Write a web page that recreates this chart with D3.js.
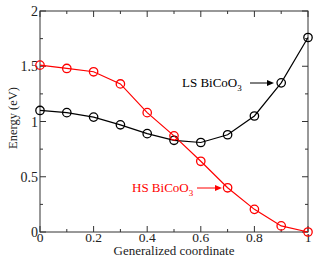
<!DOCTYPE html>
<html><head><meta charset="utf-8">
<script src="https://cdn.jsdelivr.net/npm/d3@7"></script>
<style>body{margin:0;background:#fff}</style>
</head><body><svg id="c" width="314" height="258"></svg>
<script>
const coords = [0,0.1,0.2,0.3,0.4,0.5,0.6,0.7,0.8,0.9,1];
const lsEnergy = [1.10,1.08,1.04,0.97,0.89,0.83,0.81,0.88,1.05,1.35,1.76];
const hsEnergy = [1.51,1.48,1.45,1.34,1.08,0.87,0.64,0.40,0.205,0.055,0.0];
const xTicks = [0,0.2,0.4,0.6,0.8,1];
const xTickLabels = ["0","0.2","0.4","0.6","0.8","1"];
const yTicks = [0,0.5,1,1.5,2];
const yTickLabels = ["0","0.5","1","1.5","2"];

const svg = d3.select("#c");
const FF = "'Liberation Serif', 'Times New Roman', serif";
const L=40,R=308,T=11,B=232;
const x = d3.scaleLinear().domain([0,1]).range([L,R]);
const y = d3.scaleLinear().domain([0,2]).range([B,T]);
const axc="#333";

svg.append("rect").attr("x",L).attr("y",T).attr("width",R-L).attr("height",B-T)
  .attr("fill","none").attr("stroke",axc).attr("stroke-width",1);

const xMinor = d3.range(0,1.0001,0.1);
const yMinor = d3.range(0,2.0001,0.25);
const g = svg.append("g").attr("stroke",axc).attr("stroke-width",1);
xMinor.forEach((v,i)=>{
  const len = (i%2===0)?6:3;
  g.append("line").attr("x1",x(v)).attr("x2",x(v)).attr("y1",B).attr("y2",B-len);
  g.append("line").attr("x1",x(v)).attr("x2",x(v)).attr("y1",T).attr("y2",T+len);
});
yMinor.forEach((v,i)=>{
  const len = (i%2===0)?6:3;
  g.append("line").attr("y1",y(v)).attr("y2",y(v)).attr("x1",L).attr("x2",L+len);
  g.append("line").attr("y1",y(v)).attr("y2",y(v)).attr("x1",R).attr("x2",R-len);
});

function txt(){ return svg.append("text").style("font-family",FF); }

xTicks.forEach((v,i)=>{
  txt().attr("x",x(v)).attr("y",241.5).attr("text-anchor","middle")
    .attr("font-size",13.5).attr("fill","#222").text(xTickLabels[i]);
});
yTicks.forEach((v,i)=>{
  txt().attr("x",L-2).attr("y",y(v)+5).attr("text-anchor","end")
    .attr("font-size",14).attr("fill","#222").text(yTickLabels[i]);
});

txt().attr("x",(L+R)/2).attr("y",255.3).attr("text-anchor","middle")
  .attr("font-size",13).attr("fill","#222").text("Generalized coordinate");
txt().attr("transform",`translate(17,118) rotate(-90)`).attr("text-anchor","middle")
  .attr("font-size",12.5).attr("fill","#222").text("Energy (eV)");

const line = d3.line().x((d,i)=>x(coords[i])).y(d=>y(d));
function series(vals,color){
  svg.append("path").datum(vals).attr("d",line).attr("fill","none").attr("stroke",color).attr("stroke-width",1.2);
  svg.append("g").selectAll("circle").data(vals).join("circle")
    .attr("cx",(d,i)=>x(coords[i])).attr("cy",d=>y(d)).attr("r",4.2)
    .attr("fill","none").attr("stroke",color).attr("stroke-width",1.3);
}
series(lsEnergy,"#000");
series(hsEnergy,"#ff0000");

function label(tx,ty,s,color,ax1,ax2,ay){
  const t=txt().attr("x",tx).attr("y",ty).attr("font-size",13).attr("fill",color);
  t.append("tspan").text(s);
  t.append("tspan").attr("font-size",9).attr("dy",4).text("3");
  svg.append("line").attr("x1",ax1).attr("x2",ax2-5).attr("y1",ay).attr("y2",ay).attr("stroke",color).attr("stroke-width",1);
  svg.append("path").attr("d",`M${ax2},${ay} L${ax2-7},${ay-3} L${ax2-7},${ay+3} Z`).attr("fill",color);
}
label(182,87,"LS BiCoO",  "#000", 250,274,83);
label(132,192,"HS BiCoO","#ff0000",197,222,188);
</script></body></html>
